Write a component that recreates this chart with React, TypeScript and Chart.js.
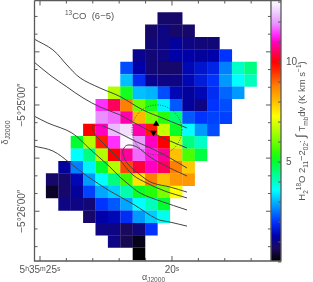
import React, { useEffect, useRef } from "react";
import { Chart, registerables } from "chart.js";

Chart.register(...registerables);

// Map grid: first occupied column of each row, then the integrated intensity (K km/s)
const firstColumn = [9, 8, 8, 7, 6, 6, 5, 4, 4, 3, 2, 2, 1, 0, 0, 1, 3, 4, 5, 7];
const rowValues = [
  [0.8, 0.8],
  [0.8, 1.0, 0.8, 0.8],
  [0.9, 1.0, 1.2, 1.0, 0.9, 0.9],
  [1.1, 0.9, 1.0, 1.3, 1.3, 1.2, 1.3, 2.0],
  [2.2, 1.3, 0.9, 0.8, 0.8, 1.4, 1.6, 1.8, 2.6, 4.0, 4.5],
  [3.1, 1.9, 1.1, 1.0, 1.0, 1.4, 1.7, 2.0, 2.8, 3.6, 4.1],
  [6.6, 5.2, 3.1, 3.0, 2.2, 1.4, 1.2, 1.4, 1.9, 2.4, 2.8],
  [11.4, 10.5, 8.8, 6.0, 5.2, 3.5, 2.3, 1.2, 1.0, 2.0, 2.2],
  [11.9, 11.7, 10.9, 8.1, 6.1, 5.4, 4.6, 2.3, 2.0, 2.1, 2.1],
  [10, 11, 12.3, 12.7, 10.9, 9.7, 6.8, 5.1, 3.6, 2.8, 2.2],
  [5, 6.6, 9.7, 11.4, 13, 12, 11, 10, 6.8, 4.5, 4.0],
  [3.6, 4.5, 6.6, 10, 10.8, 11.7, 11.2, 10.8, 8, 5.7, 4.9],
  [1.2, 2.6, 3.5, 5, 6.6, 9.3, 10.3, 11, 10.5, 8.8, 7.9],
  [0.8, 0.8, 1.4, 2.8, 3.6, 4.5, 5.6, 7.6, 8.8, 8, 8.5, 8.5],
  [0.3, 0.8, 1.2, 2.1, 2.9, 3.2, 4.2, 5.1, 5.4, 6.1, 7.3],
  [1, 1, 0.9, 2, 2.3, 2.9, 3.6, 4.1, 5],
  [0.8, 1.3, 1.4, 1.9, 2.8, 3.2, 3.7],
  [1, 1, 0.7, 0.9, 2],
  [1, 0.6, 0.2],
  [0],
];
// Grid geometry in sky coordinates: RA seconds of 5h35m, Dec arcsec from -5°25'00"
const firstRA = 24.538;
const stepRA = 0.4697;
const firstDec = 48.87;
const stepDec = 7.0;

// Colour ramp
const rampValues = [0, 0.7, 1.3, 2.0, 2.6, 3.1, 3.6, 4.4, 5.0, 5.5, 6.0, 7.3, 8.0, 8.8, 9.5, 10, 10.6, 11, 11.4, 11.9, 12.5, 13.1];
const rampColors = [
  "#000000", "#1a0a5e", "#0000a8", "#0033ff", "#0080ff", "#00c0ff", "#00ffff", "#00ff90", "#00ff30", "#30ff00", "#70ff00",
  "#ffff00", "#ffc000", "#ff8000", "#ff3000", "#ff0000", "#ff0070", "#ff00c0", "#ff30ff", "#e890ff", "#eecfff", "#ffffff",
];

// CO contours as [RA seconds, Dec arcsec]
const contourA = [[25.23, 37.3], [24.51, 31.1], [23.98, 22.6], [23.48, 15.3], [22.73, 9.6], [21.97, 4.8], [21.1, -2.8], [20.27, -7.9], [19.43, -13.0]];
const contourB = [[25.23, 24.3], [24.62, 16.9], [23.98, 10.2], [23.37, 4.0], [22.73, -1.1], [21.97, -5.6], [21.48, -9.6], [20.57, -16.9], [20.08, -20.3], [19.43, -24.3]];
const contourC = [[25.23, -6.2], [24.7, -10.2], [23.79, -15.8], [23.11, -24.9], [22.73, -29.9], [22.35, -35.0], [21.97, -40.7], [21.7, -44.1], [21.21, -49.7], [20.45, -54.2], [19.43, -59.3]];
const contourE = [[25.23, -23.2], [24.51, -26.0], [23.86, -32.8], [23.22, -40.1], [22.35, -48.6], [21.48, -55.9], [20.57, -64.4], [20.08, -66.1], [19.43, -68.4]];
const hairpinOne = [[19.43, -35.6], [20.08, -29.9], [20.72, -24.9], [21.33, -20.9], [21.86, -16.9], [22.61, -11.9], [22.88, -11.6], [23.03, -12.4], [22.95, -15.3], [22.84, -18.1], [22.46, -23.7], [21.97, -31.1], [21.48, -39.5], [20.95, -44.1], [20.27, -48.6], [19.43, -52.5]];
const hairpinTwo = [[19.43, -40.1], [20.08, -35.6], [20.83, -29.4], [21.33, -23.7], [21.67, -22.6], [21.82, -24.3], [21.86, -27.1], [21.7, -32.8], [21.1, -40.7], [20.72, -44.1], [20.08, -46.3], [19.43, -49.2]];
const contours = [contourA, contourB, contourC, contourE, hairpinOne, hairpinTwo];

// Two source positions and the beam ring
const sourceUp = [20.6, -10.7];
const sourceDown = [20.7, -15.6];
const beamCentre = [20.57, -14.1];
const beamRadius = 14.1;

// Axis ticks
const raTicks = [25, 24, 23, 22, 21, 20, 19, 18, 17];
const raLabels: Record<number, string> = { 25: "5ʰ35ᵐ25ˢ", 20: "20ˢ" };
const decTicks = [50, 40, 30, 20, 10, 0, -10, -20, -30, -40, -50, -60, -70, -80];
const decMajor = [30, 0, -30, -60];
const decLabels: Record<number, string> = { 0: "−5°25′00″", "-60": "−5°26′00″" };
const barTicks = [0, 1, 2, 3, 4, 5, 6, 7, 8, 9, 10, 11, 12, 13];
const barLabels: Record<number, string> = { 5: "5", 10: "10" };

const FONT = '"Liberation Sans"';
const INK = "#555555";
const FRAME = "#5a5a5a";

type Run = { t: string; k?: "sub" | "sup"; s?: number };
const titleRuns: Run[] = [{ t: "13", k: "sup" }, { t: "CO  (6−5)" }];
const decTitleRuns: Run[] = [{ t: "δ", s: 9 }, { t: "J2000", k: "sub", s: 7 }];
const raTitleRuns: Run[] = [{ t: "α", s: 9 }, { t: "J2000", k: "sub", s: 6.6 }];
const barTitleRuns: Run[] = [
  { t: "H" }, { t: "2", k: "sub" }, { t: "18", k: "sup" }, { t: "O 2" }, { t: "11", k: "sub" }, { t: "−2" }, { t: "02", k: "sub" }, { t: ": " },
  { t: "∫", s: 13 }, { t: " T" }, { t: "mb", k: "sub" }, { t: "dv (K km s" }, { t: "−1", k: "sup" }, { t: ")" },
];

function rampColor(v: number): string {
  const hex = (c: string) => [1, 3, 5].map((i) => parseInt(c.slice(i, i + 2), 16));
  let i = 0;
  while (i < rampValues.length - 2 && v > rampValues[i + 1]) i++;
  const f = Math.min(1, Math.max(0, (v - rampValues[i]) / (rampValues[i + 1] - rampValues[i])));
  const a = hex(rampColors[i]);
  const b = hex(rampColors[i + 1]);
  return `rgb(${a.map((x, k) => Math.round(x + (b[k] - x) * f)).join(",")})`;
}

function drawRuns(ctx: CanvasRenderingContext2D, runs: Run[], x: number, y: number, size: number, angle = 0, centre = false) {
  ctx.save();
  ctx.translate(x, y);
  ctx.rotate(angle);
  ctx.fillStyle = INK;
  ctx.textBaseline = "alphabetic";
  ctx.textAlign = "left";
  const fontOf = (r: Run) => `${r.s ?? (r.k ? size * 0.68 : size)}px ${FONT}`;
  let pos = 0;
  if (centre) {
    let total = 0;
    for (const r of runs) {
      ctx.font = fontOf(r);
      total += ctx.measureText(r.t).width;
    }
    pos = -total / 2;
  }
  for (const r of runs) {
    ctx.font = fontOf(r);
    const dy = r.k === "sub" ? size * 0.28 : r.k === "sup" ? -size * 0.42 : 0;
    ctx.fillText(r.t, pos, dy);
    pos += ctx.measureText(r.t).width;
  }
  ctx.restore();
}

const framePlugin = {
  id: "frame",
  beforeDatasetsDraw(chart: any) {
    const { ctx, chartArea: a, scales } = chart;
    const cb = scales.cb;
    const x0 = scales.x.getPixelForValue(16.25);
    const gy0 = cb.getPixelForValue(cb.min);
    const gy1 = cb.getPixelForValue(cb.max);
    const g = ctx.createLinearGradient(0, gy0, 0, gy1);
    rampValues.forEach((v, i) => g.addColorStop(Math.min(1, Math.max(0, (v - cb.min) / (cb.max - cb.min))), rampColors[i]));
    ctx.save();
    ctx.fillStyle = g;
    ctx.fillRect(x0, a.top, a.right - x0, a.bottom - a.top);
    ctx.restore();
  },
  afterDraw(chart: any) {
    const { ctx, chartArea: a, scales } = chart;
    const { x, y, cb } = scales;
    const xr = x.getPixelForValue(16.25);
    ctx.save();
    ctx.setLineDash([]);
    ctx.strokeStyle = FRAME;
    ctx.lineWidth = 1.3;
    ctx.beginPath();
    ctx.moveTo(a.left, a.top);
    ctx.lineTo(a.right, a.top);
    ctx.lineTo(a.right, a.bottom);
    ctx.lineTo(a.left, a.bottom);
    ctx.lineTo(a.left, a.top);
    ctx.moveTo(xr, a.top);
    ctx.lineTo(xr, a.bottom);
    ctx.stroke();
    ctx.lineWidth = 1;
    ctx.beginPath();
    for (const v of raTicks) {
      const len = v % 5 === 0 ? 5 : 3;
      const px = x.getPixelForValue(v);
      ctx.moveTo(px, a.bottom);
      ctx.lineTo(px, a.bottom - len);
      ctx.moveTo(px, a.top);
      ctx.lineTo(px, a.top + len);
    }
    for (const v of decTicks) {
      const len = decMajor.includes(v) ? 5 : 3;
      const py = y.getPixelForValue(v);
      ctx.moveTo(a.left, py);
      ctx.lineTo(a.left + len, py);
      ctx.moveTo(xr, py);
      ctx.lineTo(xr - len, py);
    }
    for (const v of barTicks) {
      const py = cb.getPixelForValue(v);
      ctx.moveTo(a.right, py);
      ctx.lineTo(a.right - 3, py);
    }
    ctx.stroke();
    // beam ring
    const cx = x.getPixelForValue(beamCentre[0]);
    const cy = y.getPixelForValue(beamCentre[1]);
    const r = Math.abs(y.getPixelForValue(beamCentre[1] + beamRadius) - cy);
    ctx.strokeStyle = "#444444";
    ctx.lineWidth = 0.9;
    ctx.setLineDash([1, 1.5]);
    ctx.beginPath();
    ctx.arc(cx, cy, r, 0, Math.PI * 2);
    ctx.stroke();
    ctx.restore();

    drawRuns(ctx, titleRuns, 65, 19, 9.5);
    drawRuns(ctx, decTitleRuns, 7.5, 132.5, 9, -Math.PI / 2, true);
    drawRuns(ctx, raTitleRuns, 153.5, 279.5, 9, 0, true);
    drawRuns(ctx, barTitleRuns, 305, 131, 9.5, -Math.PI / 2, true);
  },
};

function fixedAxis(size: number, horizontal: boolean) {
  return (scale: any) => {
    if (horizontal) scale.height = size;
    else scale.width = size;
    scale.paddingTop = scale.paddingBottom = scale.paddingLeft = scale.paddingRight = 0;
  };
}

export default function App() {
  const ref = useRef<HTMLCanvasElement>(null);
  useEffect(() => {
    const cells: { x: number; y: number }[] = [];
    const cellColors: string[] = [];
    rowValues.forEach((row, j) =>
      row.forEach((v, k) => {
        cells.push({ x: firstRA - (firstColumn[j] + k) * stepRA, y: firstDec - j * stepDec });
        cellColors.push(rampColor(v));
      })
    );
    const chart = new Chart(ref.current!, {
      type: "scatter",
      data: {
        datasets: [
          {
            data: [{ x: sourceUp[0], y: sourceUp[1] }, { x: sourceDown[0], y: sourceDown[1] }],
            pointStyle: "triangle",
            pointRadius: 3.8,
            pointRotation: [0, 180],
            backgroundColor: "#000000",
            borderColor: "#000000",
            borderWidth: 0,
            order: 1,
          },
          ...contours.map((c) => ({
            data: c.map(([x, y]) => ({ x, y })),
            showLine: true,
            pointRadius: 0,
            borderColor: "#444444",
            borderWidth: 1,
            tension: 0.35,
            order: 2,
          })),
          {
            data: cells,
            pointStyle: "rect",
            pointRadius: 8.9,
            pointBorderWidth: 0,
            borderWidth: 0,
            backgroundColor: cellColors,
            order: 10,
          },
        ],
      } as any,
      options: {
        animation: false,
        responsive: false,
        devicePixelRatio: 1,
        layout: { autoPadding: false, padding: { top: 0.5, left: 0, right: 0, bottom: 0 } },
        plugins: { legend: { display: false }, tooltip: { enabled: false } },
        scales: {
          x: {
            type: "linear",
            reverse: true,
            min: 15.87,
            max: 25.208,
            grid: { display: false, drawTicks: false },
            border: { display: false },
            afterBuildTicks: (s: any) => { s.ticks = raTicks.map((value) => ({ value })); },
            afterFit: fixedAxis(21, true),
            ticks: {
              autoSkip: false,
              maxRotation: 0,
              padding: 3,
              color: INK,
              font: { family: FONT, size: 10 },
              callback: (v: any) => raLabels[v] ?? "",
            },
          },
          y: {
            type: "linear",
            min: -88.1,
            max: 59.0,
            grid: { display: false, drawTicks: false },
            border: { display: false },
            afterBuildTicks: (s: any) => { s.ticks = decTicks.map((value) => ({ value })); },
            afterFit: fixedAxis(34.5, false),
            ticks: {
              autoSkip: false,
              minRotation: 90,
              maxRotation: 90,
              crossAlign: "center",
              padding: -9.5,
              color: INK,
              font: { family: FONT, size: 10 },
              callback: (v: any) => decLabels[v] ?? "",
            },
          },
          cb: {
            type: "linear",
            position: "right",
            min: 0.05,
            max: 13.08,
            grid: { display: false, drawTicks: false },
            border: { display: false },
            afterBuildTicks: (s: any) => { s.ticks = barTicks.map((value) => ({ value })); },
            afterFit: fixedAxis(32, false),
            ticks: {
              autoSkip: false,
              padding: 5,
              color: INK,
              font: { family: FONT, size: 10 },
              callback: (v: any) => barLabels[v] ?? "",
            },
          },
        },
      } as any,
      plugins: [framePlugin],
    });
    return () => chart.destroy();
  }, []);
  return (
    <div style={{ position: "fixed", left: 0, top: 0, width: 313, height: 282, background: "#fff" }}>
      <canvas ref={ref} width={313} height={282} style={{ display: "block" }} />
    </div>
  );
}
